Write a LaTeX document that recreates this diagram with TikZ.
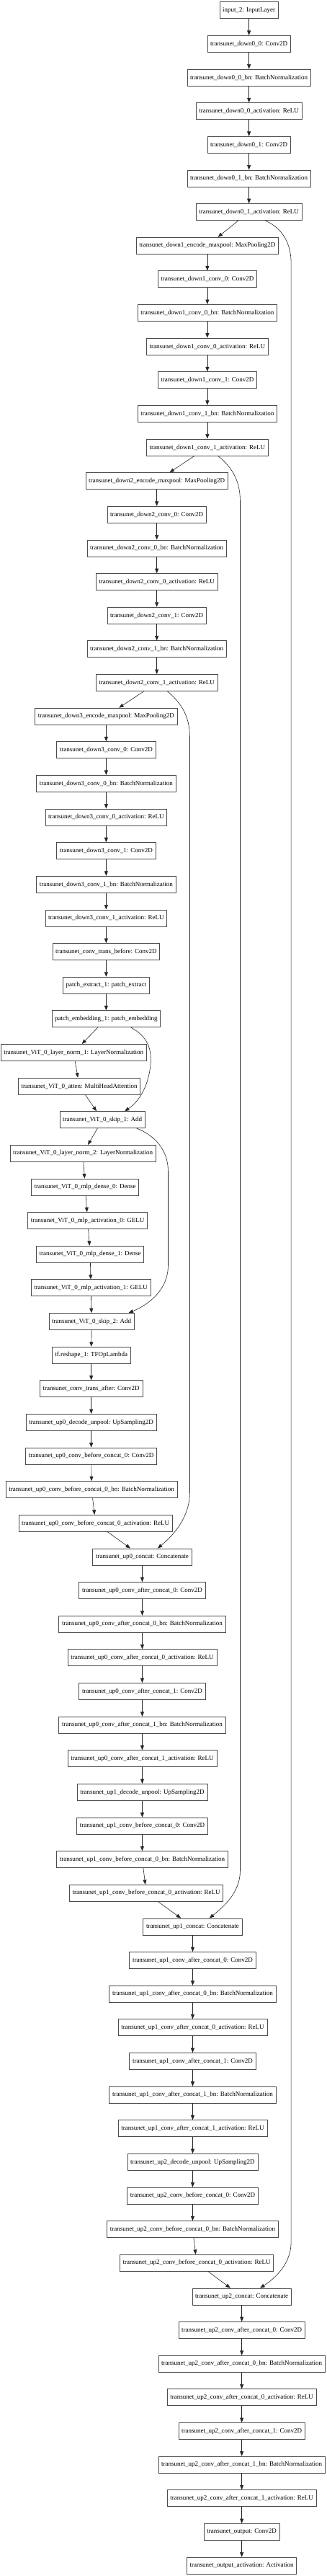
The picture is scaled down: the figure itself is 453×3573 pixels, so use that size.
\documentclass[tikz,border=0pt]{standalone}
\usepackage{fontspec}
\setmainfont{Liberation Serif}
\usetikzlibrary{arrows.meta}

\begin{document}
\begin{tikzpicture}[scale=1.000000,x=1pt,y=1pt,
  layer/.style={draw=black!70,line width=0.7pt,fill=white,font=\fontsize{9}{10}\selectfont,inner xsep=4.2pt,inner ysep=0pt,minimum height=23pt},
  link/.style={draw=black!85,line width=0.6pt,-{Triangle[length=6.5pt,width=5pt]}}]
\filldraw[color=white] (0.000000, -3573.000000) rectangle (453.000000, 0.000000);
% Drawing layers
% Block down0
\node[layer] (in) at (345.500000,-14.000000) {input\_2: InputLayer};
\node[layer] (dzc0) at (345.500000,-60.640000) {transunet\_down0\_0: Conv2D};
\node[layer] (dzc0bn) at (345.500000,-107.280000) {transunet\_down0\_0\_bn: BatchNormalization};
\node[layer] (dzc0act) at (345.500000,-153.920000) {transunet\_down0\_0\_activation: ReLU};
\node[layer] (dzc1) at (345.500000,-200.560000) {transunet\_down0\_1: Conv2D};
\node[layer] (dzc1bn) at (345.500000,-247.200000) {transunet\_down0\_1\_bn: BatchNormalization};
\node[layer] (dzc1act) at (345.500000,-293.840000) {transunet\_down0\_1\_activation: ReLU};
% Block down1
\node[layer] (doPool) at (287.700000,-340.480000) {transunet\_down1\_encode\_maxpool: MaxPooling2D};
\node[layer] (doc0) at (287.700000,-387.120000) {transunet\_down1\_conv\_0: Conv2D};
\node[layer] (doc0bn) at (287.700000,-433.760000) {transunet\_down1\_conv\_0\_bn: BatchNormalization};
\node[layer] (doc0act) at (287.700000,-480.400000) {transunet\_down1\_conv\_0\_activation: ReLU};
\node[layer] (doc1) at (287.700000,-527.040000) {transunet\_down1\_conv\_1: Conv2D};
\node[layer] (doc1bn) at (287.700000,-573.680000) {transunet\_down1\_conv\_1\_bn: BatchNormalization};
\node[layer] (doc1act) at (287.700000,-620.320000) {transunet\_down1\_conv\_1\_activation: ReLU};
% Block down2
\node[layer] (dtPool) at (217.500000,-666.960000) {transunet\_down2\_encode\_maxpool: MaxPooling2D};
\node[layer] (dtc0) at (217.500000,-713.600000) {transunet\_down2\_conv\_0: Conv2D};
\node[layer] (dtc0bn) at (217.500000,-760.240000) {transunet\_down2\_conv\_0\_bn: BatchNormalization};
\node[layer] (dtc0act) at (217.500000,-806.880000) {transunet\_down2\_conv\_0\_activation: ReLU};
\node[layer] (dtc1) at (217.500000,-853.520000) {transunet\_down2\_conv\_1: Conv2D};
\node[layer] (dtc1bn) at (217.500000,-900.160000) {transunet\_down2\_conv\_1\_bn: BatchNormalization};
\node[layer] (dtc1act) at (217.500000,-946.800000) {transunet\_down2\_conv\_1\_activation: ReLU};
% Block down3
\node[layer] (drPool) at (147.200000,-993.440000) {transunet\_down3\_encode\_maxpool: MaxPooling2D};
\node[layer] (drc0) at (147.200000,-1040.080000) {transunet\_down3\_conv\_0: Conv2D};
\node[layer] (drc0bn) at (147.200000,-1086.720000) {transunet\_down3\_conv\_0\_bn: BatchNormalization};
\node[layer] (drc0act) at (147.200000,-1133.360000) {transunet\_down3\_conv\_0\_activation: ReLU};
\node[layer] (drc1) at (147.200000,-1180.000000) {transunet\_down3\_conv\_1: Conv2D};
\node[layer] (drc1bn) at (147.200000,-1226.640000) {transunet\_down3\_conv\_1\_bn: BatchNormalization};
\node[layer] (drc1act) at (147.200000,-1273.280000) {transunet\_down3\_conv\_1\_activation: ReLU};
% Transformer
\node[layer] (trBefore) at (147.200000,-1319.920000) {transunet\_conv\_trans\_before: Conv2D};
\node[layer] (pExtract) at (147.200000,-1366.560000) {patch\_extract\_1: patch\_extract};
\node[layer] (pEmbed) at (147.200000,-1413.200000) {patch\_embedding\_1: patch\_embedding};
\node[layer] (vitNorm1) at (102.000000,-1459.840000) {transunet\_ViT\_0\_layer\_norm\_1: LayerNormalization};
\node[layer] (vitAtten) at (110.000000,-1506.480000) {transunet\_ViT\_0\_atten: MultiHeadAttention};
\node[layer] (vitSkip1) at (142.000000,-1553.120000) {transunet\_ViT\_0\_skip\_1: Add};
\node[layer] (vitNorm2) at (115.000000,-1599.760000) {transunet\_ViT\_0\_layer\_norm\_2: LayerNormalization};
\node[layer] (vitDense0) at (118.000000,-1646.400000) {transunet\_ViT\_0\_mlp\_dense\_0: Dense};
\node[layer] (vitGelu0) at (121.500000,-1693.040000) {transunet\_ViT\_0\_mlp\_activation\_0: GELU};
\node[layer] (vitDense1) at (125.000000,-1739.680000) {transunet\_ViT\_0\_mlp\_dense\_1: Dense};
\node[layer] (vitGelu1) at (126.000000,-1786.320000) {transunet\_ViT\_0\_mlp\_activation\_1: GELU};
\node[layer] (vitSkip2) at (127.000000,-1832.960000) {transunet\_ViT\_0\_skip\_2: Add};
\node[layer] (reshape) at (126.500000,-1879.600000) {tf.reshape\_1: TFOpLambda};
\node[layer] (trAfter) at (126.500000,-1926.240000) {transunet\_conv\_trans\_after: Conv2D};
% Block up0
\node[layer] (uzPool) at (126.500000,-1972.880000) {transunet\_up0\_decode\_unpool: UpSampling2D};
\node[layer] (uzb0) at (126.500000,-2019.520000) {transunet\_up0\_conv\_before\_concat\_0: Conv2D};
\node[layer] (uzb0bn) at (127.000000,-2066.160000) {transunet\_up0\_conv\_before\_concat\_0\_bn: BatchNormalization};
\node[layer] (uzb0act) at (132.500000,-2112.800000) {transunet\_up0\_conv\_before\_concat\_0\_activation: ReLU};
\node[layer] (uzCat) at (197.300000,-2159.440000) {transunet\_up0\_concat: Concatenate};
\node[layer] (uza0) at (197.300000,-2206.080000) {transunet\_up0\_conv\_after\_concat\_0: Conv2D};
\node[layer] (uza0bn) at (197.300000,-2252.720000) {transunet\_up0\_conv\_after\_concat\_0\_bn: BatchNormalization};
\node[layer] (uza0act) at (197.300000,-2299.360000) {transunet\_up0\_conv\_after\_concat\_0\_activation: ReLU};
\node[layer] (uza1) at (197.300000,-2346.000000) {transunet\_up0\_conv\_after\_concat\_1: Conv2D};
\node[layer] (uza1bn) at (197.300000,-2392.640000) {transunet\_up0\_conv\_after\_concat\_1\_bn: BatchNormalization};
\node[layer] (uza1act) at (197.300000,-2439.280000) {transunet\_up0\_conv\_after\_concat\_1\_activation: ReLU};
% Block up1
\node[layer] (uoPool) at (197.300000,-2485.920000) {transunet\_up1\_decode\_unpool: UpSampling2D};
\node[layer] (uob0) at (197.300000,-2532.560000) {transunet\_up1\_conv\_before\_concat\_0: Conv2D};
\node[layer] (uob0bn) at (197.300000,-2579.200000) {transunet\_up1\_conv\_before\_concat\_0\_bn: BatchNormalization};
\node[layer] (uob0act) at (203.000000,-2625.840000) {transunet\_up1\_conv\_before\_concat\_0\_activation: ReLU};
\node[layer] (uoCat) at (267.300000,-2672.480000) {transunet\_up1\_concat: Concatenate};
\node[layer] (uoa0) at (267.300000,-2719.120000) {transunet\_up1\_conv\_after\_concat\_0: Conv2D};
\node[layer] (uoa0bn) at (267.300000,-2765.760000) {transunet\_up1\_conv\_after\_concat\_0\_bn: BatchNormalization};
\node[layer] (uoa0act) at (267.300000,-2812.400000) {transunet\_up1\_conv\_after\_concat\_0\_activation: ReLU};
\node[layer] (uoa1) at (267.300000,-2859.040000) {transunet\_up1\_conv\_after\_concat\_1: Conv2D};
\node[layer] (uoa1bn) at (267.300000,-2905.680000) {transunet\_up1\_conv\_after\_concat\_1\_bn: BatchNormalization};
\node[layer] (uoa1act) at (267.300000,-2952.320000) {transunet\_up1\_conv\_after\_concat\_1\_activation: ReLU};
% Block up2
\node[layer] (utPool) at (267.300000,-2998.960000) {transunet\_up2\_decode\_unpool: UpSampling2D};
\node[layer] (utb0) at (267.300000,-3045.600000) {transunet\_up2\_conv\_before\_concat\_0: Conv2D};
\node[layer] (utb0bn) at (267.300000,-3092.240000) {transunet\_up2\_conv\_before\_concat\_0\_bn: BatchNormalization};
\node[layer] (utb0act) at (273.000000,-3138.880000) {transunet\_up2\_conv\_before\_concat\_0\_activation: ReLU};
\node[layer] (utCat) at (335.500000,-3185.520000) {transunet\_up2\_concat: Concatenate};
\node[layer] (uta0) at (335.500000,-3232.160000) {transunet\_up2\_conv\_after\_concat\_0: Conv2D};
\node[layer] (uta0bn) at (335.500000,-3278.800000) {transunet\_up2\_conv\_after\_concat\_0\_bn: BatchNormalization};
\node[layer] (uta0act) at (335.500000,-3325.440000) {transunet\_up2\_conv\_after\_concat\_0\_activation: ReLU};
\node[layer] (uta1) at (335.500000,-3372.080000) {transunet\_up2\_conv\_after\_concat\_1: Conv2D};
\node[layer] (uta1bn) at (335.500000,-3418.720000) {transunet\_up2\_conv\_after\_concat\_1\_bn: BatchNormalization};
\node[layer] (uta1act) at (335.500000,-3465.360000) {transunet\_up2\_conv\_after\_concat\_1\_activation: ReLU};
% Output
\node[layer] (outConv) at (335.500000,-3512.000000) {transunet\_output: Conv2D};
\node[layer] (outAct) at (335.500000,-3558.640000) {transunet\_output\_activation: Activation};
% Done with layers; drawing links
\draw[link] (in) -- (dzc0);
\draw[link] (dzc0) -- (dzc0bn);
\draw[link] (dzc0bn) -- (dzc0act);
\draw[link] (dzc0act) -- (dzc1);
\draw[link] (dzc1) -- (dzc1bn);
\draw[link] (dzc1bn) -- (dzc1act);
\draw[link] (dzc1act) -- (doPool);
\draw[link] (doPool) -- (doc0);
\draw[link] (doc0) -- (doc0bn);
\draw[link] (doc0bn) -- (doc0act);
\draw[link] (doc0act) -- (doc1);
\draw[link] (doc1) -- (doc1bn);
\draw[link] (doc1bn) -- (doc1act);
\draw[link] (doc1act) -- (dtPool);
\draw[link] (dtPool) -- (dtc0);
\draw[link] (dtc0) -- (dtc0bn);
\draw[link] (dtc0bn) -- (dtc0act);
\draw[link] (dtc0act) -- (dtc1);
\draw[link] (dtc1) -- (dtc1bn);
\draw[link] (dtc1bn) -- (dtc1act);
\draw[link] (dtc1act) -- (drPool);
\draw[link] (drPool) -- (drc0);
\draw[link] (drc0) -- (drc0bn);
\draw[link] (drc0bn) -- (drc0act);
\draw[link] (drc0act) -- (drc1);
\draw[link] (drc1) -- (drc1bn);
\draw[link] (drc1bn) -- (drc1act);
\draw[link] (drc1act) -- (trBefore);
\draw[link] (trBefore) -- (pExtract);
\draw[link] (pExtract) -- (pEmbed);
\draw[link] (pEmbed) -- (vitNorm1);
\draw[link] (vitNorm1) -- (vitAtten);
\draw[link] (vitAtten) -- (vitSkip1);
\draw[link] (vitSkip1) -- (vitNorm2);
\draw[link] (vitNorm2) -- (vitDense0);
\draw[link] (vitDense0) -- (vitGelu0);
\draw[link] (vitGelu0) -- (vitDense1);
\draw[link] (vitDense1) -- (vitGelu1);
\draw[link] (vitGelu1) -- (vitSkip2);
\draw[link] (vitSkip2) -- (reshape);
\draw[link] (reshape) -- (trAfter);
\draw[link] (trAfter) -- (uzPool);
\draw[link] (uzPool) -- (uzb0);
\draw[link] (uzb0) -- (uzb0bn);
\draw[link] (uzb0bn) -- (uzb0act);
\draw[link] (uzb0act) -- (uzCat);
\draw[link] (uzCat) -- (uza0);
\draw[link] (uza0) -- (uza0bn);
\draw[link] (uza0bn) -- (uza0act);
\draw[link] (uza0act) -- (uza1);
\draw[link] (uza1) -- (uza1bn);
\draw[link] (uza1bn) -- (uza1act);
\draw[link] (uza1act) -- (uoPool);
\draw[link] (uoPool) -- (uob0);
\draw[link] (uob0) -- (uob0bn);
\draw[link] (uob0bn) -- (uob0act);
\draw[link] (uob0act) -- (uoCat);
\draw[link] (uoCat) -- (uoa0);
\draw[link] (uoa0) -- (uoa0bn);
\draw[link] (uoa0bn) -- (uoa0act);
\draw[link] (uoa0act) -- (uoa1);
\draw[link] (uoa1) -- (uoa1bn);
\draw[link] (uoa1bn) -- (uoa1act);
\draw[link] (uoa1act) -- (utPool);
\draw[link] (utPool) -- (utb0);
\draw[link] (utb0) -- (utb0bn);
\draw[link] (utb0bn) -- (utb0act);
\draw[link] (utb0act) -- (utCat);
\draw[link] (utCat) -- (uta0);
\draw[link] (uta0) -- (uta0bn);
\draw[link] (uta0bn) -- (uta0act);
\draw[link] (uta0act) -- (uta1);
\draw[link] (uta1) -- (uta1bn);
\draw[link] (uta1bn) -- (uta1act);
\draw[link] (uta1act) -- (outConv);
\draw[link] (outConv) -- (outAct);
% Done with links; drawing skips
% Skip: down0 to up2
\draw[link] (dzc1act.-28) .. controls (385.000000,-313.000000) and (404.000000,-330.000000) .. (404.000000,-365.000000) -- (404.000000,-3110.000000) .. controls (404.000000,-3140.000000) and (382.000000,-3160.000000) .. (utCat.25);
% Skip: down1 to up1
\draw[link] (doc1act.-39) .. controls (318.000000,-645.000000) and (333.300000,-662.000000) .. (333.300000,-695.000000) -- (333.300000,-2595.000000) .. controls (333.300000,-2625.000000) and (310.000000,-2645.000000) .. (uoCat.27);
% Skip: down2 to up0
\draw[link] (dtc1act.-39) .. controls (248.000000,-972.000000) and (263.300000,-990.000000) .. (263.300000,-1022.000000) -- (263.300000,-2070.000000) .. controls (263.300000,-2105.000000) and (240.000000,-2130.000000) .. (uzCat.29);
% Skip: ViT residuals
\draw[link] (pEmbed.-19) .. controls (200.000000,-1435.000000) and (211.000000,-1450.000000) .. (209.000000,-1475.000000) .. controls (206.000000,-1510.000000) and (190.000000,-1530.000000) .. (vitSkip1.21);
\draw[link] (vitSkip1.-14) .. controls (215.000000,-1575.000000) and (233.300000,-1595.000000) .. (233.300000,-1625.000000) -- (233.300000,-1755.000000) .. controls (233.300000,-1790.000000) and (205.000000,-1810.000000) .. (vitSkip2.13);
% Done with skips
\end{tikzpicture}
\end{document}
